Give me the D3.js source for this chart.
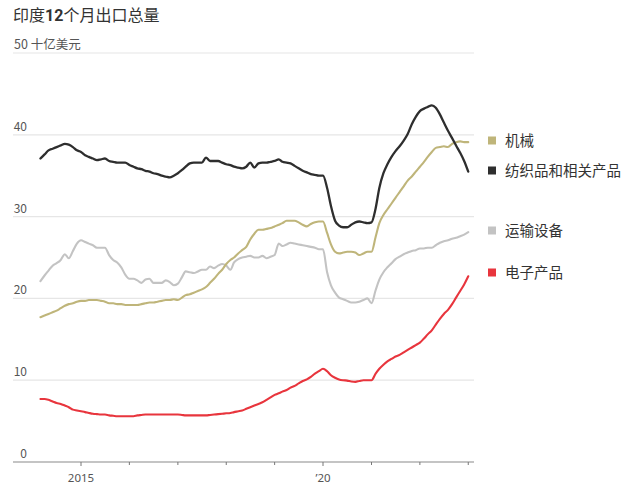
<!DOCTYPE html>
<html>
<head>
<meta charset="utf-8">
<script src="https://cdn.jsdelivr.net/npm/d3@7"></script>
<style>
  html, body { margin: 0; padding: 0; background: #fff; }
  svg { display: block; font-family: "Noto Sans CJK SC", "Noto Sans", sans-serif; }
</style>
</head>
<body>
<svg id="chart" width="643" height="494"></svg>
<script>
// ---- DATA ----
const months = [
  "2014-03","2014-04","2014-05","2014-06","2014-07","2014-08","2014-09","2014-10","2014-11","2014-12",
  "2015-01","2015-02","2015-03","2015-04","2015-05","2015-06","2015-07","2015-08","2015-09","2015-10","2015-11","2015-12",
  "2016-01","2016-02","2016-03","2016-04","2016-05","2016-06","2016-07","2016-08","2016-09","2016-10","2016-11","2016-12",
  "2017-01","2017-02","2017-03","2017-04","2017-05","2017-06","2017-07","2017-08","2017-09","2017-10","2017-11","2017-12",
  "2018-01","2018-02","2018-03","2018-04","2018-05","2018-06","2018-07","2018-08","2018-09","2018-10","2018-11","2018-12",
  "2019-01","2019-02","2019-03","2019-04","2019-05","2019-06","2019-07","2019-08","2019-09","2019-10","2019-11","2019-12",
  "2020-01","2020-02","2020-03","2020-04","2020-05","2020-06","2020-07","2020-08","2020-09","2020-10","2020-11","2020-12",
  "2021-01","2021-02","2021-03","2021-04","2021-05","2021-06","2021-07","2021-08","2021-09","2021-10","2021-11","2021-12",
  "2022-01","2022-02","2022-03","2022-04","2022-05","2022-06","2022-07","2022-08","2022-09","2022-10","2022-11","2022-12",
  "2023-01"
];

// 机械 (machinery)
const machinery = [
  17.7,17.9,18.1,18.3,18.5,18.8,19.1,19.3,19.4,19.6,
  19.7,19.7,19.8,19.8,19.8,19.7,19.6,19.4,19.4,19.3,19.3,19.2,
  19.2,19.2,19.2,19.3,19.4,19.5,19.5,19.6,19.7,19.8,19.8,19.9,
  19.8,20.1,20.4,20.5,20.7,20.9,21.1,21.4,21.9,22.4,23.0,23.5,
  24.2,24.7,25.0,25.5,25.9,26.3,27.2,27.9,28.4,28.4,28.5,28.6,
  28.8,29.0,29.2,29.5,29.5,29.5,29.3,29.0,28.8,29.1,29.3,29.4,
  29.4,28.0,26.6,25.7,25.5,25.6,25.7,25.7,25.6,25.3,25.5,25.7,
  25.7,27.5,29.2,30.2,30.9,31.6,32.3,33.0,33.7,34.4,34.9,35.5,
  36.1,36.7,37.3,37.9,38.4,38.5,38.6,38.5,38.9,39.1,39.2,39.1,
  39.1
];

// 纺织品和相关产品 (textiles)
const textiles = [
  37.1,37.6,38.1,38.3,38.5,38.7,38.9,38.8,38.5,38.1,
  37.9,37.5,37.3,37.1,36.9,37.0,37.1,36.8,36.7,36.6,36.6,36.6,
  36.3,36.1,35.9,35.8,35.6,35.5,35.3,35.2,35.0,34.9,34.8,35.0,
  35.3,35.7,36.1,36.5,36.6,36.6,36.6,37.2,36.8,36.8,36.8,36.6,
  36.4,36.3,36.1,36.0,35.9,36.1,36.6,36.0,36.5,36.6,36.6,36.7,
  36.8,37.0,36.7,36.6,36.5,36.2,35.9,35.6,35.4,35.2,35.1,35.0,
  35.0,33.5,31.3,29.5,28.9,28.7,28.7,29.0,29.3,29.4,29.3,29.2,
  29.3,31.0,33.5,35.3,36.4,37.3,38.0,38.6,39.3,40.1,41.3,42.2,
  42.9,43.2,43.4,43.6,43.3,42.5,41.5,40.5,39.6,38.7,37.8,36.8,
  35.5
];

// 运输设备 (transport equipment)
const transport = [
  22.1,22.8,23.4,24.0,24.3,24.7,25.4,24.9,25.8,26.7,
  27.1,26.9,26.7,26.5,26.2,26.2,26.2,25.3,24.7,24.4,23.8,22.9,
  22.4,22.4,22.2,21.9,22.3,22.4,21.9,21.9,21.9,22.2,22.0,21.6,
  21.8,22.6,23.3,23.2,23.1,23.3,23.5,23.5,23.9,23.7,24.0,24.2,
  24.0,23.5,24.4,24.8,25.0,25.1,25.2,25.0,25.0,25.2,24.9,25.1,
  25.3,26.7,26.4,26.6,26.8,26.7,26.6,26.5,26.4,26.3,26.2,26.0,
  26.0,23.2,21.6,20.7,20.1,19.9,19.7,19.5,19.5,19.6,19.8,20.0,
  19.4,21.0,22.3,23.2,23.8,24.3,24.8,25.1,25.4,25.6,25.8,25.9,
  26.1,26.1,26.2,26.2,26.5,26.8,27.0,27.1,27.3,27.4,27.6,27.8,
  28.1
];

// 电子产品 (electronics)
const electronics = [
  7.7,7.7,7.6,7.4,7.2,7.1,6.9,6.7,6.4,6.3,
  6.2,6.1,6.0,5.9,5.85,5.8,5.8,5.7,5.65,5.6,5.6,5.6,
  5.6,5.6,5.7,5.75,5.8,5.8,5.8,5.8,5.8,5.8,5.8,5.8,
  5.8,5.75,5.7,5.7,5.7,5.7,5.7,5.7,5.75,5.8,5.85,5.9,
  5.95,6.0,6.1,6.2,6.3,6.5,6.7,6.9,7.1,7.3,7.6,7.9,
  8.2,8.4,8.6,8.8,9.1,9.3,9.6,9.9,10.1,10.4,10.8,11.1,
  11.4,11.1,10.6,10.3,10.1,10.0,9.95,9.85,9.8,9.9,10.0,10.0,
  10.0,10.8,11.4,11.9,12.3,12.6,12.9,13.1,13.4,13.7,14.0,14.3,
  14.6,15.1,15.6,16.1,16.8,17.5,18.1,18.6,19.3,20.1,20.9,21.7,
  22.7
];

const seriesNames = ["机械", "纺织品和相关产品", "运输设备", "电子产品"];
const seriesColors = ["#bfb57a", "#2e2e2e", "#c3c3c3", "#e8353d"];
const seriesValues = [machinery, textiles, transport, electronics];

const yTicks = [0, 10, 20, 30, 40, 50];
const xTickYears = [2015, 2016, 2017, 2018, 2019, 2020, 2021, 2022, 2023];
const xTickLabels = {2015: "2015", 2020: "’20"};

// ---- CHART ----
const svg = d3.select("#chart");
const parse = d3.timeParse("%Y-%m");
const dates = months.map(parse);

const x = d3.scaleTime()
  .domain([new Date(2015, 0, 1), new Date(2020, 0, 1)])
  .range([81, 323]);
const y = d3.scaleLinear().domain([0, 50]).range([462, 53]);

const gridLeft = 13, gridRight = 474;

// Title
const title = svg.append("text")
  .attr("x", 13).attr("y", 21)
  .attr("font-size", 16).attr("fill", "#333");
title.append("tspan").text("印度");
title.append("tspan").attr("font-weight", "bold").attr("font-family", "Roboto, 'Noto Sans', sans-serif").text("12");
title.append("tspan").text("个月出口总量");

// Gridlines
svg.append("g").selectAll("line")
  .data(yTicks.filter(d => d > 0))
  .join("line")
  .attr("x1", gridLeft).attr("x2", gridRight)
  .attr("y1", d => y(d)).attr("y2", d => y(d))
  .attr("stroke", "#e6e6e6").attr("stroke-width", 1.2);

// Y labels
svg.append("g").selectAll("text")
  .data(yTicks)
  .join("text")
  .attr("x", d => d === 50 ? 14 : 27)
  .attr("y", d => y(d) - 4)
  .attr("text-anchor", d => d === 50 ? "start" : "end")
  .attr("font-size", d => d === 50 ? 12.5 : 12)
  .attr("fill", "#555")
  .text(d => d === 50 ? "50 十亿美元" : d);

// X axis line
svg.append("line")
  .attr("x1", gridLeft).attr("x2", gridRight)
  .attr("y1", y(0)).attr("y2", y(0))
  .attr("stroke", "#8a8a8a").attr("stroke-width", 1.2);

// X ticks
svg.append("g").selectAll("line")
  .data(xTickYears)
  .join("line")
  .attr("x1", d => x(new Date(d, 0, 1))).attr("x2", d => x(new Date(d, 0, 1)))
  .attr("y1", y(0)).attr("y2", d => y(0) + (xTickLabels[d] ? 4 : 3))
  .attr("stroke", "#777").attr("stroke-width", 1);

svg.append("g").selectAll("text")
  .data(xTickYears.filter(d => xTickLabels[d]))
  .join("text")
  .attr("x", d => x(new Date(d, 0, 1)))
  .attr("y", 482)
  .attr("text-anchor", "middle")
  .attr("font-family", "'Noto Sans', 'Open Sans', sans-serif")
  .attr("font-size", 11.5)
  .attr("fill", "#555")
  .text(d => xTickLabels[d]);

// Lines
const line = d3.line()
  .x((d, i) => x(dates[i]))
  .y(d => y(d))
  .curve(d3.curveMonotoneX);

const drawOrder = [2, 0, 1, 3];
svg.append("g").selectAll("path")
  .data(drawOrder)
  .join("path")
  .attr("d", k => line(seriesValues[k]))
  .attr("fill", "none")
  .attr("stroke", k => seriesColors[k])
  .attr("stroke-width", k => k === 1 ? 2.3 : 2.1)
  .attr("stroke-linejoin", "round")
  .attr("stroke-linecap", "round");

// Legend
const legendY = [140.5, 170.5, 230.5, 272.5];
const lg = svg.append("g").selectAll("g")
  .data(seriesNames)
  .join("g")
  .attr("transform", (d, i) => `translate(488, ${legendY[i]})`);
lg.append("rect")
  .attr("x", 0).attr("y", -4).attr("width", 8).attr("height", 8)
  .attr("fill", (d, i) => seriesColors[i]);
lg.append("text")
  .attr("x", 17).attr("y", 5)
  .attr("font-size", 14.5)
  .attr("fill", "#333")
  .text(d => d);
</script>
</body>
</html>
